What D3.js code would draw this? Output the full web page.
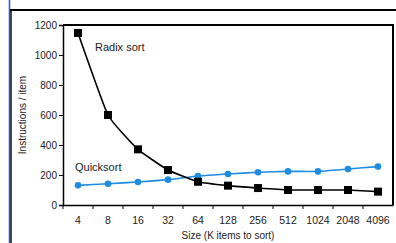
<!DOCTYPE html>
<html><head><meta charset="utf-8">
<script src="https://cdn.jsdelivr.net/npm/d3@7"></script>
<style>body{margin:0;background:#fff}svg{display:block}text{font-family:"Liberation Sans",Arial,sans-serif}</style>
</head><body><svg id="c" width="396" height="243"></svg>
<script>
const categories = ["4","8","16","32","64","128","256","512","1024","2048","4096"];
const radixSort = [1147, 600, 371, 233, 155, 129, 113, 100, 100, 100, 89];
const quickSort = [131, 142, 153, 169, 193, 207, 218, 224, 224, 240, 256];
const yTicks = [0, 200, 400, 600, 800, 1000, 1200];

const svg = d3.select("#c");
const L = 63, R = 393, T = 25, B = 205;
const x = d3.scaleBand().domain(categories).range([L, R]);
const y = d3.scaleLinear().domain([0, 1200]).range([B, T]);
const cx = d => x(d) + x.bandwidth() / 2;

// page frame
svg.append("line").attr("x1", 9.5).attr("x2", 9.5).attr("y1", 0).attr("y2", 243).attr("stroke", "#2a5ce6").attr("stroke-width", 1.6);
svg.append("line").attr("x1", 11).attr("x2", 11).attr("y1", 10).attr("y2", 243).attr("stroke", "#000").attr("stroke-width", 1.4);
svg.append("line").attr("x1", 10).attr("x2", 396).attr("y1", 10).attr("y2", 10).attr("stroke", "#000").attr("stroke-width", 2);

// plot box top/right
svg.append("path").attr("d", `M${L},${T}H${R}V${B}`).attr("fill", "none").attr("stroke", "#000").attr("stroke-width", 2);

// y axis
const ya = svg.append("g").attr("transform", `translate(${L},0)`)
  .call(d3.axisLeft(y).tickValues(yTicks).tickSize(4).tickPadding(2).tickFormat(d3.format("d")));
ya.select(".domain").attr("stroke", "#000").attr("stroke-width", 1.5);
ya.selectAll(".tick line").attr("stroke", "#000");
ya.selectAll("text").attr("font-size", 10).attr("fill", "#222").style("font-family", "Liberation Sans, Arial");

// x axis
const xa = svg.append("g").attr("transform", `translate(0,${B})`)
  .call(d3.axisBottom(x).tickSize(0).tickPadding(12));
xa.select(".domain").attr("stroke", "#000").attr("stroke-width", 1.5);
xa.selectAll("text").attr("font-size", 10.5).attr("fill", "#222").style("font-family", "Liberation Sans, Arial");
xa.selectAll(".bt").data(categories).enter().append("line").attr("class", "bt")
  .attr("x1", d => x(d)).attr("x2", d => x(d)).attr("y1", 0).attr("y2", 4).attr("stroke", "#000");

// lines
const line = arr => d3.line().x((d, i) => cx(categories[i])).y(d => y(d)).curve(d3.curveCardinal.tension(0.6))(arr);
svg.append("path").attr("d", line(quickSort)).attr("fill", "none").attr("stroke", "#1e8ce0").attr("stroke-width", 1.6);
svg.selectAll(".qp").data(quickSort).enter().append("circle")
  .attr("cx", (d, i) => cx(categories[i])).attr("cy", d => y(d)).attr("r", 3.3).attr("fill", "#1e8ce0");
svg.append("path").attr("d", line(radixSort)).attr("fill", "none").attr("stroke", "#000").attr("stroke-width", 1.6);
svg.selectAll(".rp").data(radixSort).enter().append("rect")
  .attr("x", (d, i) => cx(categories[i]) - 4).attr("y", d => y(d) - 4).attr("width", 8).attr("height", 8).attr("fill", "#000");

// labels
svg.append("text").attr("x", 95).attr("y", 51).attr("font-size", 11).attr("fill", "#222").text("Radix sort");
svg.append("text").attr("x", 75).attr("y", 171).attr("font-size", 11).attr("fill", "#222").text("Quicksort");
svg.append("text").attr("transform", `translate(26,${(T + B) / 2}) rotate(-90)`).attr("text-anchor", "middle")
  .attr("font-size", 10).attr("fill", "#222").text("Instructions / item");
svg.append("text").attr("x", (L + R) / 2).attr("y", 239).attr("text-anchor", "middle")
  .attr("font-size", 10).attr("fill", "#222").text("Size (K items to sort)");
</script></body></html>
